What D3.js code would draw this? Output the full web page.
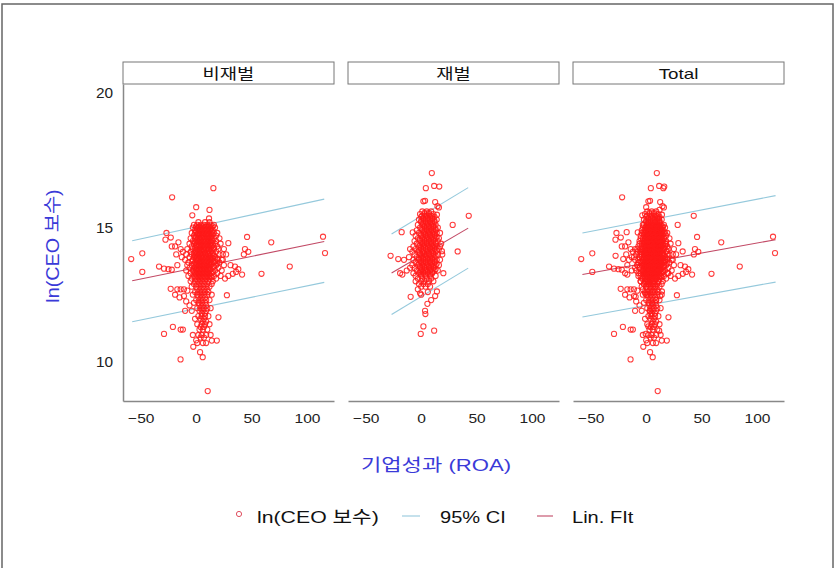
<!DOCTYPE html>
<html>
<head>
<meta charset="utf-8">
<script src="https://cdn.jsdelivr.net/npm/d3@7"></script>
<style>
  body { margin: 0; background: #fff; }
  svg text { font-family: "Liberation Sans", Arial, "Noto Sans CJK KR", sans-serif; }
</style>
</head>
<body>
<main></main>
<script>
// panels (by group)
const groups = ["비재벌", "재벌", "Total"];
const xTicks = [-50, 0, 50, 100];
const yTicks = [10, 15, 20];

// scattered points, [ROA, ln(CEO pay)]
const outliers1 = [
  [15.5, 16.47], [-21.7, 16.13], [0, 15.76], [12, 15.66], [-3.5, 15.46], [11.6, 15.34],
  [-26.8, 14.8], [-22.9, 14.63], [-27.7, 14.55], [-58.6, 13.83], [-48.6, 14.04], [-48.6, 13.35],
  [-33.5, 13.55], [-29, 13.47], [-25, 13.45], [-22, 13.43], [-22, 14.3], [-19, 14.3],
  [-16, 14.45], [-14, 14.2], [-18, 14.0], [-12, 14.1], [-13, 13.9], [-17, 13.6],
  [-23, 12.72], [-17, 12.7], [-14, 12.7], [-19, 12.5], [-11, 12.7], [-8, 12.65],
  [-15, 12.4], [-11, 12.45], [-9, 12.25], [-21, 11.3], [-14, 11.2], [-12, 11.2],
  [-29, 11.04], [-14.1, 10.09], [5.9, 10.17], [3.5, 10.36], [-2.6, 10.56], [10.4, 8.91],
  [14.1, 10.79], [18.6, 10.79], [20.1, 11.66], [27.7, 12.48], [45.9, 14.65], [67.7, 14.45],
  [114.4, 14.66], [116.2, 14.05], [84.4, 13.55], [58.9, 13.28], [44, 14.2], [47, 14.1],
  [43, 14.0], [41.4, 13.25], [31, 13.6], [35, 13.55], [38, 13.45], [36, 13.35],
  [33, 13.28], [29, 14.42], [29, 13.2], [26, 13.1], [24, 13.8], [27, 14.0],
  [-6, 12.1], [-4, 11.9], [-1, 11.6], [-3, 11.0], [0, 10.8], [-10, 11.9]
];

// dense core of 비재벌: [ln pay, [ROA values]]
const core1 = [
  [15.2, [2, 8, 12]],
  [15.1, [-2, 1, 4, 7, 10, 13, 16]],
  [15.05, [0, 3, 6, 9, 12, 15]],
  [15.0, [-3, 0, 2, 5, 8, 11, 14, 17]],
  [14.95, [1, 4, 7, 10, 13]],
  [14.9, [-1, 3, 6, 9, 12, 15]],
  [14.85, [0, 5, 8, 11, 14]],
  [14.8, [-4, -1, 2, 4, 7, 10, 13, 16, 19]],
  [14.75, [1, 3, 6, 9, 12, 15]],
  [14.7, [-2, 1, 3, 6, 9, 11, 14, 18]],
  [14.65, [0, 4, 7, 10, 13]],
  [14.6, [-5, -1, 2, 5, 8, 10, 13, 16, 21]],
  [14.55, [1, 4, 7, 11, 14]],
  [14.5, [-3, 0, 3, 6, 9, 12, 15, 18]],
  [14.45, [-1, 2, 5, 8, 11, 14]],
  [14.4, [-6, -2, 1, 4, 7, 10, 13, 17, 22]],
  [14.35, [0, 3, 6, 9, 12, 15]],
  [14.3, [-4, 0, 2, 5, 8, 11, 14, 19]],
  [14.25, [-1, 4, 7, 10, 13, 16]],
  [14.2, [-8, -3, 1, 3, 6, 9, 12, 16, 20, 25]],
  [14.15, [0, 4, 7, 11, 14]],
  [14.1, [-5, -1, 2, 5, 7, 10, 13, 18]],
  [14.05, [-2, 1, 4, 8, 12, 15]],
  [14.0, [-9, -4, 0, 3, 6, 8, 11, 15, 21, 24]],
  [13.95, [-1, 2, 5, 9, 13, 16]],
  [13.9, [-6, -2, 1, 4, 7, 10, 13, 17]],
  [13.85, [0, 3, 6, 9, 12, 15, 19]],
  [13.8, [-10, -3, 0, 2, 5, 8, 11, 14, 19, 23]],
  [13.75, [-4, 1, 4, 7, 10, 13, 17]],
  [13.7, [-7, -1, 3, 6, 9, 12, 16, 21]],
  [13.65, [-2, 1, 4, 7, 11, 14, 19]],
  [13.6, [-8, -4, 0, 2, 5, 8, 10, 13, 18, 25]],
  [13.55, [-1, 3, 6, 9, 12, 16]],
  [13.5, [-6, -2, 1, 4, 7, 11, 15, 20]],
  [13.45, [0, 3, 5, 8, 10, 13]],
  [13.4, [-9, -3, 0, 3, 6, 9, 12, 17, 23]],
  [13.35, [-2, 1, 4, 7, 10, 15]],
  [13.3, [-5, -1, 2, 5, 8, 11, 14, 19]],
  [13.25, [0, 3, 6, 9, 12]],
  [13.2, [-7, -2, 1, 4, 7, 10, 13, 16, 22]],
  [13.15, [-1, 2, 5, 8, 11, 14]],
  [13.1, [-4, 0, 3, 6, 9, 12, 18]],
  [13.0, [-5, -1, 2, 5, 8, 11, 15]],
  [12.9, [-2, 1, 4, 7, 10, 14]],
  [12.8, [-4, 0, 3, 6, 9, 12]],
  [12.7, [1, 4, 7, 10]],
  [12.6, [-1, 2, 5, 8, 11]],
  [12.5, [-3, 1, 4, 7, 10, 14]],
  [12.4, [2, 5, 8]],
  [12.3, [0, 3, 6, 9, 12]],
  [12.2, [-2, 2, 5, 8]],
  [12.1, [3, 6, 9]],
  [12.0, [1, 4, 7, 10, 13]],
  [11.9, [3, 6, 9]],
  [11.8, [5, 8]],
  [11.7, [2, 5, 8, 11]],
  [11.6, [4, 7]],
  [11.5, [6, 9]],
  [11.4, [1, 5, 8, 12]],
  [11.3, [4, 7]],
  [11.2, [3, 6, 10]],
  [11.0, [2, 5, 9, 13]],
  [10.9, [4, 7]],
  [10.7, [1, 6, 9]]
];

const outliers2 = [
  [9.6, 17.03], [4.2, 16.47], [11.7, 16.55], [16.3, 16.53], [42.9, 15.44], [28.4, 15.1],
  [-17.6, 14.83], [-7.6, 14.82], [2, 15.98], [3.5, 16.0], [12.6, 15.95], [14.7, 15.8],
  [16, 15.75], [14.2, 15.48], [-27.6, 13.95], [-20.7, 13.83], [-15.5, 13.8], [32.9, 14.11],
  [-19, 13.3], [-17, 13.25], [-13, 13.4], [-10, 13.5], [-9.5, 12.42], [-3, 12.7],
  [-1, 12.55], [0, 12.5], [12.6, 12.45], [14.2, 12.62], [5.6, 12.16], [3.5, 11.9],
  [3.8, 11.78], [2, 11.32], [-0.4, 11.04], [11.7, 11.16], [17, 14.3], [18.7, 14.12],
  [20, 13.3], [-10, 14.2], [-11, 13.9], [9, 12.3], [6, 12.6]
];

const core2 = [
  [15.6, [1, 5, 9]],
  [15.55, [3, 7]],
  [15.5, [-1, 3, 7, 11]],
  [15.45, [1, 5, 9]],
  [15.4, [0, 4, 8, 12]],
  [15.35, [2, 6, 10]],
  [15.3, [-2, 2, 6, 10, 14]],
  [15.25, [0, 4, 8, 12]],
  [15.2, [0, 4, 8, 12]],
  [15.15, [2, 6, 10]],
  [15.1, [-3, 1, 5, 9, 13]],
  [15.05, [3, 7, 11]],
  [15.0, [-1, 3, 7, 11, 15]],
  [14.95, [1, 5, 9, 13]],
  [14.9, [-4, 1, 5, 9, 13]],
  [14.85, [3, 7, 11]],
  [14.8, [-2, 2, 6, 10, 14, 17]],
  [14.75, [0, 4, 8, 12]],
  [14.7, [-5, 0, 4, 8, 12]],
  [14.65, [2, 6, 10, 14]],
  [14.6, [-3, 1, 5, 9, 13, 16]],
  [14.55, [-1, 3, 7, 11]],
  [14.5, [-6, -1, 3, 7, 11, 15]],
  [14.45, [1, 5, 9, 13]],
  [14.4, [-4, 1, 5, 9, 13, 18]],
  [14.35, [-1, 3, 7, 11]],
  [14.3, [-7, -2, 2, 6, 10, 14]],
  [14.25, [0, 4, 8, 12]],
  [14.2, [-5, 0, 4, 8, 12, 16]],
  [14.15, [-2, 2, 6, 10, 14]],
  [14.1, [-8, -3, 1, 5, 9, 13]],
  [14.05, [-1, 3, 7, 11]],
  [14.0, [-6, -1, 3, 7, 11, 15, 19]],
  [13.95, [1, 5, 9, 13]],
  [13.9, [-4, 0, 4, 8, 12]],
  [13.85, [-2, 2, 6, 10]],
  [13.8, [-7, -2, 2, 6, 10, 14, 17]],
  [13.75, [0, 4, 8, 12]],
  [13.7, [-5, 0, 4, 8, 12]],
  [13.65, [-2, 2, 6, 10, 14]],
  [13.6, [-8, -3, 1, 5, 9, 13, 16]],
  [13.55, [-1, 3, 7, 11]],
  [13.5, [-6, -1, 3, 7, 11]],
  [13.45, [1, 5, 9, 13]],
  [13.4, [-4, 0, 4, 8, 12, 15]],
  [13.35, [-1, 2, 6, 10]],
  [13.3, [-7, -2, 2, 6, 10]],
  [13.25, [0, 4, 8]],
  [13.2, [-5, 0, 4, 8, 13]],
  [13.1, [-3, 1, 5, 9]],
  [13.0, [-5, 0, 3, 7, 11]],
  [12.9, [-2, 2, 6]],
  [12.8, [0, 4, 8]]
];

// fitted line and 95% CI, end points per group: [x0, x1]
const fitX = [[-57.7, 115.5], [-26.7, 42.4], [-57.5, 116.7]];
const fitY = [[13.02, 14.48], [13.31, 14.98], [13.25, 14.55]];
const ciUpper = [[14.51, 16.06], [14.76, 16.49], [14.80, 16.19]];
const ciLower = [[11.49, 12.96], [11.76, 13.49], [11.67, 12.97]];

const legendLabels = ["ln(CEO 보수)", "95% CI", "Lin. FIt"];

function expand(outl, core) {
  let pts = outl.slice();
  core.forEach(r => r[1].forEach(x => pts.push([x, r[0]])));
  return pts;
}
const pts1 = expand(outliers1, core1);
const pts2 = expand(outliers2, core2);
const panelPoints = [pts1, pts2, pts1.concat(pts2)];

// the reference's type is drawn wide: stretch each text to its measured length
function widen(sel, k) {
  sel.each(function () {
    const w = this.getComputedTextLength();
    d3.select(this).attr("textLength", w * k).attr("lengthAdjust", "spacingAndGlyphs");
  });
}

const W = 836, H = 568;
const svg = d3.select("main").append("svg").attr("width", W).attr("height", H);

svg.append("rect").attr("x", 2).attr("y", 4).attr("width", 831).attr("height", 570)
   .attr("fill", "#fff").attr("stroke", "#666").attr("stroke-width", 1.5);

const panelLeft = [123, 348, 573], panelW = 211;
const plotTop = 84, plotBottom = 401;

const y = d3.scaleLinear().domain([8.54, 20.35]).range([plotBottom, plotTop]);

const red = "#ff1a1a", ciCol = "#95c9dc", fitCol = "#c24a66";

groups.forEach((g, i) => {
  const x = d3.scaleLinear().domain([-66, 124.3]).range([panelLeft[i], panelLeft[i] + panelW]);
  const p = svg.append("g");

  // strip
  p.append("rect").attr("x", panelLeft[i]).attr("y", 62).attr("width", panelW).attr("height", 22)
   .attr("fill", "#fff").attr("stroke", "#777").attr("stroke-width", 1);
  p.append("text").attr("x", panelLeft[i] + panelW / 2).attr("y", 79).attr("text-anchor", "middle")
   .attr("font-size", 15).attr("fill", "#111").text(g).call(widen, 1.25);

  // CI and fit lines
  const line = d3.line().x(d => x(d[0])).y(d => y(d[1]));
  [[ciUpper[i], ciCol], [ciLower[i], ciCol], [fitY[i], fitCol]].forEach(([ys, col]) => {
    p.append("path").datum([[fitX[i][0], ys[0]], [fitX[i][1], ys[1]]])
     .attr("d", line).attr("fill", "none").attr("stroke", col).attr("stroke-width", 1.1);
  });

  // points
  p.append("g").selectAll("circle").data(panelPoints[i]).enter().append("circle")
   .attr("cx", d => x(d[0])).attr("cy", d => y(d[1])).attr("r", 2.6)
   .attr("fill", "none").attr("stroke", red).attr("stroke-width", 1.05).attr("stroke-opacity", 0.85);

  // x axis
  const xa = p.append("g").attr("transform", `translate(0,${plotBottom})`)
    .call(d3.axisBottom(x).tickValues(xTicks).tickSize(0).tickPadding(12).tickFormat(d3.format("d")));
  xa.select(".domain").attr("stroke", "#888").attr("stroke-width", 1.5);
  xa.selectAll("text").attr("font-size", 13.5).attr("fill", "#222")
    .attr("font-family", "Liberation Sans, Arial, sans-serif").call(widen, 1.15);

  if (i === 0) {
    const ya = p.append("g").attr("transform", `translate(${panelLeft[0]},0)`)
      .call(d3.axisLeft(y).tickValues(yTicks).tickSize(0).tickPadding(10).tickFormat(d3.format("d")));
    ya.select(".domain").attr("stroke", "#888").attr("stroke-width", 1.5);
    ya.selectAll("text").attr("font-size", 14).attr("fill", "#222")
      .attr("font-family", "Liberation Sans, Arial, sans-serif").call(widen, 1.1);
  }
});

// axis titles
svg.append("text").attr("x", 436).attr("y", 471).attr("text-anchor", "middle")
   .attr("font-size", 17).attr("fill", "#3a3ad8").text("기업성과 (ROA)").call(widen, 1.3);
svg.append("text").attr("transform", "translate(59,246) rotate(-90)").attr("text-anchor", "middle")
   .attr("font-size", 18).attr("fill", "#3a3ad8").text("ln(CEO 보수)").call(widen, 1.1);

// legend
const lg = svg.append("g");
lg.append("circle").attr("cx", 239).attr("cy", 514).attr("r", 2.6)
  .attr("fill", "none").attr("stroke", "#e05060").attr("stroke-width", 1);
lg.append("text").attr("x", 257).attr("y", 523).attr("font-size", 17).attr("fill", "#111").text(legendLabels[0]).call(widen, 1.25);
lg.append("line").attr("x1", 402).attr("x2", 420).attr("y1", 516).attr("y2", 516)
  .attr("stroke", ciCol).attr("stroke-width", 1.1);
lg.append("text").attr("x", 440).attr("y", 523).attr("font-size", 17).attr("fill", "#111").text(legendLabels[1]).call(widen, 1.18);
lg.append("line").attr("x1", 537).attr("x2", 553).attr("y1", 516).attr("y2", 516)
  .attr("stroke", fitCol).attr("stroke-width", 1.1);
lg.append("text").attr("x", 572).attr("y", 523).attr("font-size", 17).attr("fill", "#111").text(legendLabels[2]).call(widen, 1.18);
</script>
</body>
</html>
